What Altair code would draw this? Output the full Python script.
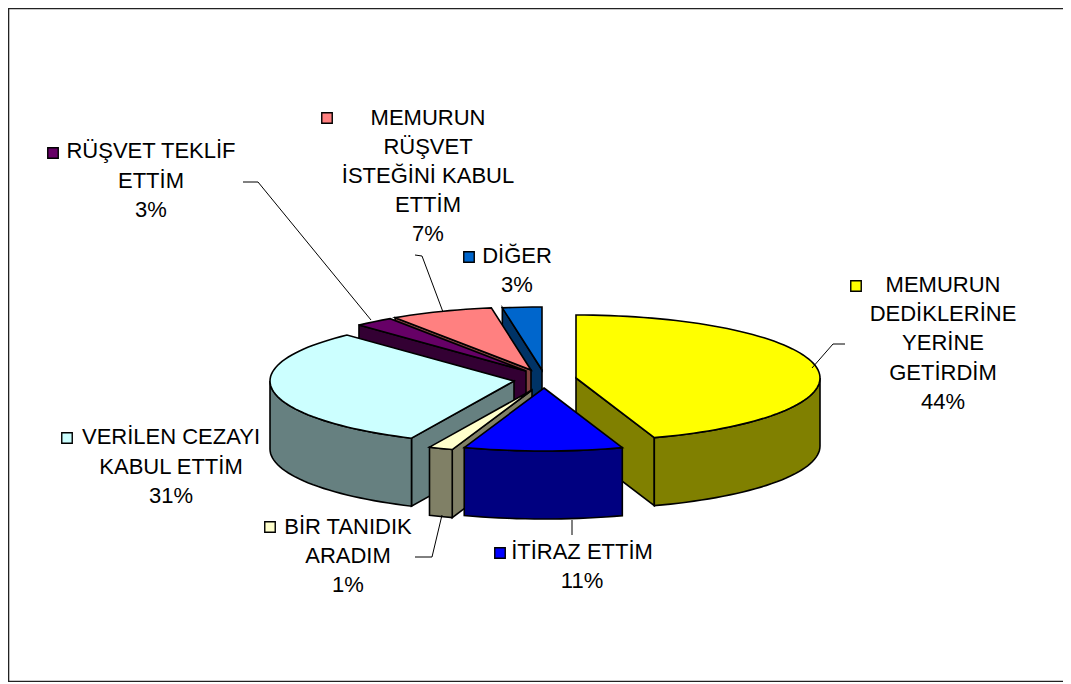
import math
import altair as alt
import pandas as pd

# ---- data ----
CATEGORIES = ["MEMURUN DEDİKLERİNE YERİNE GETİRDİM", "İTİRAZ ETTİM", "BİR TANIDIK ARADIM",
              "VERİLEN CEZAYI KABUL ETTİM", "RÜŞVET TEKLİF ETTİM",
              "MEMURUN RÜŞVET İSTEĞİNİ KABUL ETTİM", "DİĞER"]
SHARES = [44.8, 10.5, 1.6, 31.1, 2.6, 6.8, 2.6]
LABELS = [
    ["MEMURUN", "DEDİKLERİNE", "YERİNE", "GETİRDİM", "44%"],
    ["İTİRAZ ETTİM", "11%"],
    ["BİR TANIDIK", "ARADIM", "1%"],
    ["VERİLEN CEZAYI", "KABUL ETTİM", "31%"],
    ["RÜŞVET TEKLİF", "ETTİM", "3%"],
    ["MEMURUN", "RÜŞVET", "İSTEĞİNİ KABUL", "ETTİM", "7%"],
    ["DİĞER", "3%"],
]
TOP_COLORS = ["#FFFF00", "#0000FF", "#FFFFCC", "#CCFFFF", "#660066", "#FF8080", "#0066CC"]
WALL_COLORS = ["#808000", "#000080", "#808066", "#668080", "#330033", "#804040", "#003366"]

# ---- layout (page pixels) ----
W, H, M = 1055, 674, 8
APEX = [(576, 378), (544, 388), (532, 390), (514, 381), (526, 371), (531, 370), (542, 370)]
RX, RY, DEPTH = 244, 63, 68
DRAW_ORDER = [6, 0, 5, 4, 3, 2, 1]
LABEL_X = [943, 582, 348, 171, 151, 428, 517]
LABEL_Y = [
    [285, 314, 343, 373, 402],
    [552, 581],
    [527, 556, 585],
    [437, 467, 496],
    [151, 181, 210],
    [118, 147, 176, 205, 234],
    [256, 285],
]
KEY_POS = [(856, 286), (500, 553), (270, 527), (67, 438), (53, 153), (327, 118), (469, 257)]
LEADERS = [
    [(845, 344), (833, 344), (812, 368)],
    [(572, 520), (572, 535)],
    [(442, 515), (432, 557), (415, 557)],
    [(243, 182), (258, 182), (371, 320)],
    [(415, 255), (422, 256), (443, 312)],
]
BORDER = [(1063, 8.5), (8.5, 8.5), (8.5, 681.5), (1063, 681.5)]

x_enc = alt.X("x:Q", scale=alt.Scale(domain=[0, W]), axis=None)
y_enc = alt.Y("y:Q", scale=alt.Scale(domain=[H, 0]), axis=None)


def frame(points):
    return pd.DataFrame({"x": [p[0] - M for p in points],
                         "y": [p[1] - M for p in points],
                         "seq": range(len(points))})


def poly(points, color):
    return alt.Chart(frame(points)).mark_line(
        fill=color, stroke="#000000", strokeWidth=1.6, interpolate="linear-closed",
        strokeJoin="miter"
    ).encode(x=x_enc, y=y_enc, order="seq:Q")


def path(points, width=1.0, color="#000000"):
    return alt.Chart(frame(points)).mark_line(
        stroke=color, strokeWidth=width
    ).encode(x=x_enc, y=y_enc, order="seq:Q")


def rim(apex, deg):
    t = math.radians(deg)
    return (apex[0] + RX * math.sin(t), apex[1] - RY * math.cos(t))


def arc(apex, a, b):
    n = max(2, int(abs(b - a) / 2) + 1)
    return [rim(apex, a + (b - a) * i / (n - 1)) for i in range(n)]


def down(points):
    return [(p[0], p[1] + DEPTH) for p in points]


starts = []
total = 0.0
for s in SHARES:
    starts.append(total / 100 * 360)
    total += s

layers = [path(BORDER, 1.6, "#222222")]
for i in DRAW_ORDER:
    a = starts[i]
    b = a + SHARES[i] / 100 * 360
    apex = APEX[i]
    top, wall = TOP_COLORS[i], WALL_COLORS[i]
    # cut faces turned towards the viewer
    for edge, normal in ((a, a - 90), (b, b + 90)):
        if math.cos(math.radians(normal)) < -1e-6:
            quad = [apex, rim(apex, edge)]
            quad = quad + down(quad)[::-1]
            layers.append(poly(quad, wall))
    # outer wall, front half only
    lo, hi = max(a, 90), min(b, 270)
    if lo < hi:
        edge = arc(apex, lo, hi)
        layers.append(poly(edge + down(edge)[::-1], wall))
    layers.append(poly([apex] + arc(apex, a, b), top))

for pts in LEADERS:
    layers.append(path(pts))

text_rows = []
for lines, cx, ys in zip(LABELS, LABEL_X, LABEL_Y):
    for line, yy in zip(lines, ys):
        text_rows.append({"x": cx - M, "y": yy - M, "t": line})
layers.append(
    alt.Chart(pd.DataFrame(text_rows)).mark_text(
        font="Liberation Sans", fontSize=22, align="center", baseline="middle", color="#000000"
    ).encode(x=x_enc, y=y_enc, text="t:N")
)

key_df = pd.DataFrame({"x": [p[0] - M for p in KEY_POS], "y": [p[1] - M for p in KEY_POS],
                       "c": TOP_COLORS, "name": CATEGORIES})
layers.append(
    alt.Chart(key_df).mark_square(size=110, stroke="#000000", strokeWidth=1.4, opacity=1).encode(
        x=x_enc, y=y_enc, fill=alt.Fill("c:N", scale=None)
    )
)

chart = alt.layer(*layers).properties(
    width=W, height=H, padding=0, autosize=alt.AutoSizeParams(type="none"),
    background="#FFFFFF"
).configure_view(strokeWidth=0)

chart.save("out.html", embed_options={"renderer": "svg", "actions": False})
